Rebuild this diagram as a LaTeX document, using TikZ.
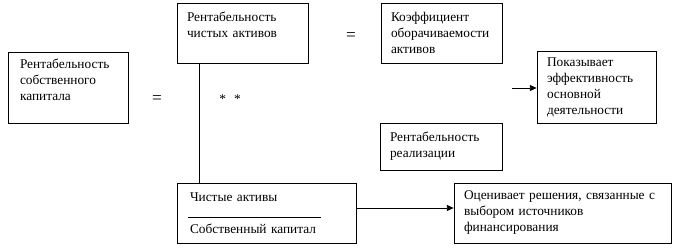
\documentclass[tikz,border=0pt]{standalone}
\usepackage{fontspec}
\setmainfont{Liberation Serif}
\usetikzlibrary{arrows.meta}
\begin{document}
\begin{tikzpicture}[
        x=0.75pt, y=-0.75pt,
        box/.style={draw, rectangle, line width=0.6pt, align=left, inner xsep=7.5pt, inner ysep=0pt, font=\fontsize{10pt}{12pt}\selectfont},
        sign/.style={inner sep=0pt, font=\fontsize{13pt}{15pt}\selectfont},
        stars/.style={inner sep=0pt, font=\fontsize{10pt}{12pt}\selectfont},
        arrow/.style={line width=0.6pt, -{Triangle[length=5pt, width=4.5pt]}}
    ]
    \useasboundingbox (0,0) rectangle (673,249);

    \node[box, text width=72pt, inner xsep=9pt, minimum height=53.25pt] (rsk) at (68,87.5) {Рентабельность\\собственного\\капитала\\\mbox{}};
    \node[box, text width=83.25pt, minimum height=45pt] (rna) at (242.5,33) {Рентабельность\\чистых активов\\\mbox{}};
    \node[box, text width=75.75pt, minimum height=45pt] (koa) at (441.5,33) {Коэффициент\\оборачиваемости\\активов};
    \node[box, text width=74.25pt, minimum height=54pt] (eff) at (596.5,87) {Показывает\\эффективность\\основной\\деятельности};
    \node[box, text width=76.5pt, minimum height=35.25pt] (rre) at (441,146.5) {Рентабельность\\реализации};
    \node[box, text width=114.75pt, inner xsep=9.75pt, minimum height=45pt] (net) at (266.5,213) {Чистые активы\\\hspace*{-1.5pt}\rule{99.75pt}{0.6pt}\\Собственный капитал};
    \node[box, text width=147.75pt, minimum height=45pt] (fin) at (562.5,213) {Оценивает решения, связанные с\\выбором источников\\финансирования};

    \node[sign] (eq1) at (157,100) {=};
    \node[sign] (eq2) at (351,37) {=};
    \node[stars] (mul) at (230,99) {*\hspace{6pt}*};

    \coordinate (effin) at (512,88);

    \draw[line width=0.6pt] ([xshift=17.25pt]rna.south west) -- ([xshift=17.25pt]net.north west);
    \draw[arrow] (effin) -- (effin -| eff.west);
    \draw[arrow] ([yshift=3.75pt]net.east) -- ([yshift=3.75pt]fin.west);

\end{tikzpicture}
\end{document}
